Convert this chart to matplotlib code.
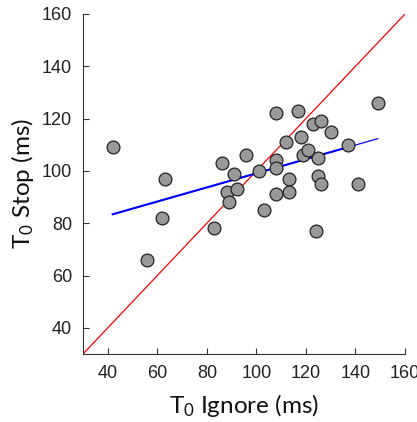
import numpy as np
import matplotlib
matplotlib.use('Agg')
import matplotlib.pyplot as plt

# T0 values in ms
t0_ignore = [42, 56, 62, 63, 83, 86, 88, 89, 91, 92, 96, 101, 103,
             108, 108, 108, 108, 112, 113, 113, 117, 118, 119, 121,
             123, 124, 125, 125, 126, 126, 130, 137, 141, 149]
t0_stop = [109, 66, 82, 97, 78, 103, 92, 88, 99, 93, 106, 100, 85,
           122, 104, 101, 91, 111, 97, 92, 123, 113, 106, 108,
           118, 77, 105, 98, 119, 95, 115, 110, 95, 126]

x = np.array(t0_ignore, dtype=float)
y = np.array(t0_stop, dtype=float)

plt.rcParams['mathtext.default'] = 'regular'

fig = plt.figure(figsize=(4.17, 4.22), dpi=100)
ax = fig.add_axes([83/417, 1 - 354/422, (405-83)/417, (354-14)/422])

# identity line
ax.plot([30, 160], [30, 160], color='red', lw=0.9, zorder=1)

# linear fit
slope, intercept = np.polyfit(x, y, 1)
xs = np.array([x.min(), x.max()])
ax.plot(xs, slope*xs + intercept, color='blue', lw=0.9, zorder=2)
xs2 = np.array([x.min(), 137])
ax.plot(xs2, slope*xs2 + intercept, color='blue', lw=1.5, zorder=2)

ax.scatter(x, y, s=85, facecolor='#999999', edgecolor='#222222', lw=0.9, zorder=3)

ax.set_xlim(30, 160)
ax.set_ylim(30, 160)
ax.set_xticks(range(40, 161, 20))
ax.set_yticks(range(40, 161, 20))

for s in ['top', 'right']:
    ax.spines[s].set_visible(False)
for s in ['left', 'bottom']:
    ax.spines[s].set_color('#333333')
    ax.spines[s].set_linewidth(0.8)

ax.tick_params(direction='in', length=4, width=0.8, color='#333333',
               labelsize=13, labelcolor='#222222', pad=8)
for lab in ax.get_xticklabels() + ax.get_yticklabels():
    lab.set_family('Liberation Sans')

ax.set_xlabel(r'T$_0$ Ignore (ms)', fontsize=17.5, family='Lato', color='#111111', labelpad=7)
ax.set_ylabel(r'T$_0$ Stop (ms)', fontsize=17.5, family='Lato', color='#111111', labelpad=4)

fig.savefig('out.png', dpi=100)
